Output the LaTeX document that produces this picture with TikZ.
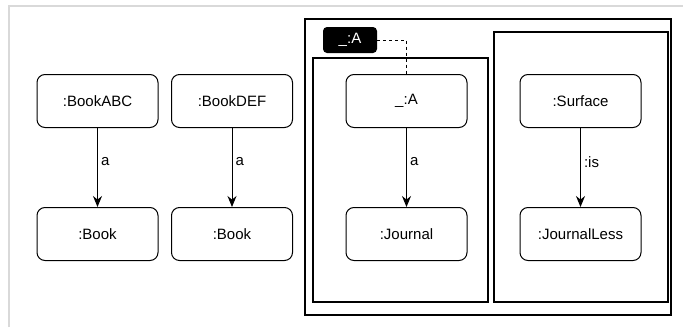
\documentclass[tikz,border=0pt]{standalone}
\usepackage{fontspec}
\setmainfont{Liberation Sans}
\usetikzlibrary{arrows.meta}

\begin{document}
\begin{tikzpicture}
  [x=1pt,y=-1pt,font=\fontsize{15}{18}\selectfont,
   res/.style={draw,rounded corners=8pt,line width=1pt,minimum width=121pt,minimum height=53pt,inner sep=0pt},
   rel/.style={-{Stealth[length=11pt,width=9pt]},line width=1pt},
   lbl/.style={right,inner sep=3pt,pos=.43},
   graphbox/.style={line width=2.5pt},
   tag/.style={fill=black,text=white,rounded corners=4pt,minimum width=54pt,minimum height=26pt,inner sep=0pt}]
  \useasboundingbox (0,0) rectangle (683,327);
  \draw[black!15,line width=2pt] (9,327) -- (9,6) -- (683,6);

  % named graphs
  \draw[graphbox] (305,19) rectangle (671,315);
  \draw[graphbox] (313,58) rectangle (488,302);
  \draw[graphbox] (494,32) rectangle (668,302);

  \node[res] (abc) at (97.5,101) {:BookABC};
  \node[res] (b1) at (97.5,234) {:Book};
  \node[res] (def) at (232,101) {:BookDEF};
  \node[res] (b2) at (232,234) {:Book};
  \node[res] (ba) at (406.5,101) {\_:A};
  \node[res] (jo) at (406.5,234) {:Journal};
  \node[res] (su) at (580.5,101) {:Surface};
  \node[res] (jl) at (580.5,234) {:JournalLess};

  \node[tag] (tagA) at (350,40) {\_:A};

  \foreach \from/\to/\txt in {abc/b1/a,def/b2/a,ba/jo/a,su/jl/:is}
    \draw[rel] (\from) -- node[lbl] {\txt} (\to);

  \draw[line width=1pt,dash pattern=on 3pt off 3pt] (tagA.east) -| (ba.north);

\end{tikzpicture}
\end{document}
